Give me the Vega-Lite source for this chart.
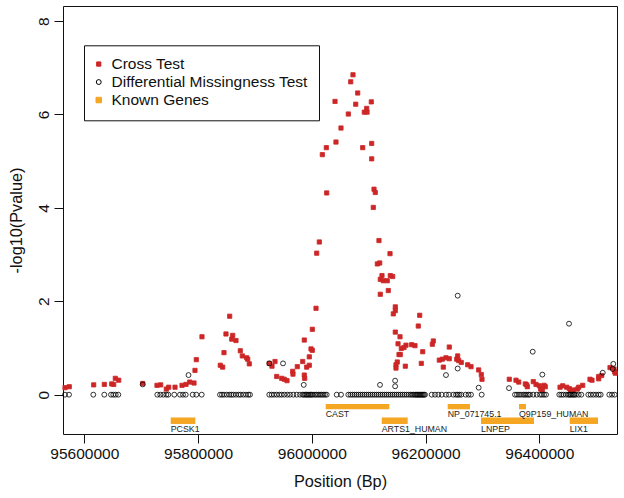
{
"$schema": "https://vega.github.io/schema/vega-lite/v6.json",
"width": 554, "height": 428,
"autosize": {"type": "none"},
"padding": {"left": 63, "top": 6, "right": 7, "bottom": 64},
"background": "white",
"config": {
  "font": "Liberation Sans",
  "view": {"stroke": "#111", "strokeWidth": 1},
  "axis": {"grid": false, "domain": false, "tickColor": "#111", "labelColor": "#111", "titleColor": "#111", "titleFontWeight": "normal", "labelFontSize": 15.5, "titleFontSize": 16.3, "tickSize": 9, "tickWidth": 1}
},
"datasets": {
"pts": [
{"pos":95566100,"p":0.15,"test":"Cross Test"},{"pos":95573600,"p":0.17,"test":"Cross Test"},{"pos":95616500,"p":0.21,"test":"Cross Test"},{"pos":95635200,"p":0.22,"test":"Cross Test"},{"pos":95648200,"p":0.23,"test":"Cross Test"},{"pos":95651700,"p":0.22,"test":"Cross Test"},{"pos":95654500,"p":0.35,"test":"Cross Test"},{"pos":95660500,"p":0.31,"test":"Cross Test"},{"pos":95702700,"p":0.24,"test":"Cross Test"},{"pos":95727800,"p":0.20,"test":"Cross Test"},{"pos":95734300,"p":0.21,"test":"Cross Test"},{"pos":95744200,"p":0.12,"test":"Cross Test"},{"pos":95748400,"p":0.16,"test":"Cross Test"},{"pos":95759500,"p":0.16,"test":"Cross Test"},{"pos":95771800,"p":0.20,"test":"Cross Test"},{"pos":95778800,"p":0.22,"test":"Cross Test"},{"pos":95785300,"p":0.27,"test":"Cross Test"},{"pos":95792900,"p":0.25,"test":"Cross Test"},{"pos":95794600,"p":0.52,"test":"Cross Test"},{"pos":95796900,"p":0.75,"test":"Cross Test"},{"pos":95806900,"p":1.24,"test":"Cross Test"},{"pos":95839100,"p":0.63,"test":"Cross Test"},{"pos":95843300,"p":0.59,"test":"Cross Test"},{"pos":95845600,"p":0.90,"test":"Cross Test"},{"pos":95849100,"p":1.30,"test":"Cross Test"},{"pos":95855600,"p":1.68,"test":"Cross Test"},{"pos":95860900,"p":1.27,"test":"Cross Test"},{"pos":95859200,"p":1.19,"test":"Cross Test"},{"pos":95866700,"p":1.16,"test":"Cross Test"},{"pos":95874300,"p":0.94,"test":"Cross Test"},{"pos":95877800,"p":0.83,"test":"Cross Test"},{"pos":95885500,"p":0.79,"test":"Cross Test"},{"pos":95887300,"p":0.76,"test":"Cross Test"},{"pos":95890100,"p":0.66,"test":"Cross Test"},{"pos":95925300,"p":0.67,"test":"Cross Test"},{"pos":95930000,"p":0.61,"test":"Cross Test"},{"pos":95935300,"p":0.71,"test":"Cross Test"},{"pos":95938300,"p":0.39,"test":"Cross Test"},{"pos":95947100,"p":0.35,"test":"Cross Test"},{"pos":95951600,"p":0.33,"test":"Cross Test"},{"pos":95956400,"p":0.30,"test":"Cross Test"},{"pos":95966400,"p":0.50,"test":"Cross Test"},{"pos":95966900,"p":0.44,"test":"Cross Test"},{"pos":95974500,"p":0.60,"test":"Cross Test"},{"pos":95984000,"p":0.71,"test":"Cross Test"},{"pos":95986800,"p":1.17,"test":"Cross Test"},{"pos":95986800,"p":0.42,"test":"Cross Test"},{"pos":95987500,"p":0.35,"test":"Cross Test"},{"pos":95991000,"p":0.59,"test":"Cross Test"},{"pos":95995600,"p":0.63,"test":"Cross Test"},{"pos":95995600,"p":0.81,"test":"Cross Test"},{"pos":95998600,"p":0.98,"test":"Cross Test"},{"pos":96000900,"p":0.95,"test":"Cross Test"},{"pos":96000900,"p":1.40,"test":"Cross Test"},{"pos":96007400,"p":1.85,"test":"Cross Test"},{"pos":96008600,"p":3.03,"test":"Cross Test"},{"pos":96013200,"p":3.27,"test":"Cross Test"},{"pos":96018500,"p":5.14,"test":"Cross Test"},{"pos":96025500,"p":5.29,"test":"Cross Test"},{"pos":96026200,"p":4.32,"test":"Cross Test"},{"pos":96040800,"p":6.28,"test":"Cross Test"},{"pos":96042500,"p":5.41,"test":"Cross Test"},{"pos":96051300,"p":5.71,"test":"Cross Test"},{"pos":96064200,"p":6.01,"test":"Cross Test"},{"pos":96068400,"p":6.70,"test":"Cross Test"},{"pos":96072400,"p":6.85,"test":"Cross Test"},{"pos":96077200,"p":6.22,"test":"Cross Test"},{"pos":96080700,"p":6.46,"test":"Cross Test"},{"pos":96089500,"p":5.29,"test":"Cross Test"},{"pos":96092300,"p":6.05,"test":"Cross Test"},{"pos":96097100,"p":6.05,"test":"Cross Test"},{"pos":96096500,"p":6.13,"test":"Cross Test"},{"pos":96104600,"p":6.27,"test":"Cross Test"},{"pos":96105300,"p":5.38,"test":"Cross Test"},{"pos":96105300,"p":5.05,"test":"Cross Test"},{"pos":96109400,"p":4.40,"test":"Cross Test"},{"pos":96111600,"p":4.33,"test":"Cross Test"},{"pos":96108100,"p":4.01,"test":"Cross Test"},{"pos":96118100,"p":3.30,"test":"Cross Test"},{"pos":96115200,"p":2.80,"test":"Cross Test"},{"pos":96119400,"p":2.82,"test":"Cross Test"},{"pos":96123400,"p":2.55,"test":"Cross Test"},{"pos":96137500,"p":3.02,"test":"Cross Test"},{"pos":96138000,"p":2.55,"test":"Cross Test"},{"pos":96142200,"p":2.53,"test":"Cross Test"},{"pos":96120400,"p":2.47,"test":"Cross Test"},{"pos":96125700,"p":2.44,"test":"Cross Test"},{"pos":96132700,"p":2.44,"test":"Cross Test"},{"pos":96134500,"p":2.23,"test":"Cross Test"},{"pos":96120400,"p":2.15,"test":"Cross Test"},{"pos":96146800,"p":1.88,"test":"Cross Test"},{"pos":96146800,"p":1.80,"test":"Cross Test"},{"pos":96143300,"p":1.73,"test":"Cross Test"},{"pos":96189700,"p":1.70,"test":"Cross Test"},{"pos":96187200,"p":1.47,"test":"Cross Test"},{"pos":96146800,"p":1.34,"test":"Cross Test"},{"pos":96155100,"p":1.24,"test":"Cross Test"},{"pos":96151600,"p":1.09,"test":"Cross Test"},{"pos":96157400,"p":0.99,"test":"Cross Test"},{"pos":96165600,"p":1.06,"test":"Cross Test"},{"pos":96162100,"p":1.01,"test":"Cross Test"},{"pos":96175600,"p":1.07,"test":"Cross Test"},{"pos":96181400,"p":1.05,"test":"Cross Test"},{"pos":96195000,"p":0.92,"test":"Cross Test"},{"pos":96153300,"p":0.86,"test":"Cross Test"},{"pos":96155600,"p":0.86,"test":"Cross Test"},{"pos":96150300,"p":0.70,"test":"Cross Test"},{"pos":96148000,"p":0.64,"test":"Cross Test"},{"pos":96148000,"p":0.57,"test":"Cross Test"},{"pos":96164400,"p":0.61,"test":"Cross Test"},{"pos":96192500,"p":0.67,"test":"Cross Test"},{"pos":96211900,"p":1.08,"test":"Cross Test"},{"pos":96213600,"p":1.15,"test":"Cross Test"},{"pos":96224200,"p":0.74,"test":"Cross Test"},{"pos":96229400,"p":0.76,"test":"Cross Test"},{"pos":96235900,"p":0.79,"test":"Cross Test"},{"pos":96231200,"p":0.59,"test":"Cross Test"},{"pos":96241700,"p":1.02,"test":"Cross Test"},{"pos":96241700,"p":0.77,"test":"Cross Test"},{"pos":96254800,"p":0.76,"test":"Cross Test"},{"pos":96256500,"p":0.83,"test":"Cross Test"},{"pos":96258300,"p":0.73,"test":"Cross Test"},{"pos":96262800,"p":0.69,"test":"Cross Test"},{"pos":96274100,"p":0.64,"test":"Cross Test"},{"pos":96279900,"p":0.60,"test":"Cross Test"},{"pos":96293400,"p":0.53,"test":"Cross Test"},{"pos":96298000,"p":0.43,"test":"Cross Test"},{"pos":96299200,"p":0.33,"test":"Cross Test"},{"pos":96347200,"p":0.33,"test":"Cross Test"},{"pos":96359000,"p":0.31,"test":"Cross Test"},{"pos":96363800,"p":0.27,"test":"Cross Test"},{"pos":96375400,"p":0.23,"test":"Cross Test"},{"pos":96378900,"p":0.17,"test":"Cross Test"},{"pos":96377800,"p":0.21,"test":"Cross Test"},{"pos":96389400,"p":0.28,"test":"Cross Test"},{"pos":96394200,"p":0.22,"test":"Cross Test"},{"pos":96400000,"p":0.19,"test":"Cross Test"},{"pos":96402400,"p":0.12,"test":"Cross Test"},{"pos":96408300,"p":0.20,"test":"Cross Test"},{"pos":96410500,"p":0.17,"test":"Cross Test"},{"pos":96405300,"p":0.10,"test":"Cross Test"},{"pos":96436400,"p":0.16,"test":"Cross Test"},{"pos":96441100,"p":0.19,"test":"Cross Test"},{"pos":96448200,"p":0.16,"test":"Cross Test"},{"pos":96452700,"p":0.13,"test":"Cross Test"},{"pos":96455200,"p":0.09,"test":"Cross Test"},{"pos":96459800,"p":0.10,"test":"Cross Test"},{"pos":96466800,"p":0.12,"test":"Cross Test"},{"pos":96469300,"p":0.16,"test":"Cross Test"},{"pos":96476300,"p":0.20,"test":"Cross Test"},{"pos":96489100,"p":0.33,"test":"Cross Test"},{"pos":96492600,"p":0.31,"test":"Cross Test"},{"pos":96504400,"p":0.34,"test":"Cross Test"},{"pos":96504400,"p":0.39,"test":"Cross Test"},{"pos":96509700,"p":0.41,"test":"Cross Test"},{"pos":96524300,"p":0.58,"test":"Cross Test"},{"pos":96531300,"p":0.55,"test":"Cross Test"},{"pos":96532600,"p":0.49,"test":"Cross Test"},{"pos":96533600,"p":0.46,"test":"Cross Test"},
{"pos":95702700,"p":0.22,"test":"Differential Missingness Test"},{"pos":95783200,"p":0.42,"test":"Differential Missingness Test"},{"pos":95925300,"p":0.67,"test":"Differential Missingness Test"},{"pos":95949400,"p":0.67,"test":"Differential Missingness Test"},{"pos":95985800,"p":0.21,"test":"Differential Missingness Test"},{"pos":96119900,"p":0.21,"test":"Differential Missingness Test"},{"pos":96146500,"p":0.30,"test":"Differential Missingness Test"},{"pos":96146500,"p":0.18,"test":"Differential Missingness Test"},{"pos":96235900,"p":0.42,"test":"Differential Missingness Test"},{"pos":96256500,"p":2.12,"test":"Differential Missingness Test"},{"pos":96256500,"p":0.56,"test":"Differential Missingness Test"},{"pos":96293400,"p":0.15,"test":"Differential Missingness Test"},{"pos":96346700,"p":0.14,"test":"Differential Missingness Test"},{"pos":96388400,"p":0.92,"test":"Differential Missingness Test"},{"pos":96405300,"p":0.43,"test":"Differential Missingness Test"},{"pos":96452200,"p":1.52,"test":"Differential Missingness Test"},{"pos":96511500,"p":0.47,"test":"Differential Missingness Test"},{"pos":96530100,"p":0.66,"test":"Differential Missingness Test"},{"pos":96529000,"p":0.55,"test":"Differential Missingness Test"},
{"pos":95566070,"p":0,"test":"Differential Missingness Test"},{"pos":95573100,"p":0,"test":"Differential Missingness Test"},{"pos":95615820,"p":0,"test":"Differential Missingness Test"},{"pos":95635160,"p":0,"test":"Differential Missingness Test"},{"pos":95646940,"p":0,"test":"Differential Missingness Test"},{"pos":95650990,"p":0,"test":"Differential Missingness Test"},{"pos":95655210,"p":0,"test":"Differential Missingness Test"},{"pos":95659780,"p":0,"test":"Differential Missingness Test"},{"pos":95728350,"p":0,"test":"Differential Missingness Test"},{"pos":95733620,"p":0,"test":"Differential Missingness Test"},{"pos":95738900,"p":0,"test":"Differential Missingness Test"},{"pos":95744170,"p":0,"test":"Differential Missingness Test"},{"pos":95747690,"p":0,"test":"Differential Missingness Test"},{"pos":95758240,"p":0,"test":"Differential Missingness Test"},{"pos":95768260,"p":0,"test":"Differential Missingness Test"},{"pos":95773530,"p":0,"test":"Differential Missingness Test"},{"pos":95778280,"p":0,"test":"Differential Missingness Test"},{"pos":95790590,"p":0,"test":"Differential Missingness Test"},{"pos":95796920,"p":0,"test":"Differential Missingness Test"},{"pos":95806410,"p":0,"test":"Differential Missingness Test"},{"pos":95838590,"p":0,"test":"Differential Missingness Test"},{"pos":95842100,"p":0,"test":"Differential Missingness Test"},{"pos":95845620,"p":0,"test":"Differential Missingness Test"},{"pos":95850370,"p":0,"test":"Differential Missingness Test"},{"pos":95854940,"p":0,"test":"Differential Missingness Test"},{"pos":95858460,"p":0,"test":"Differential Missingness Test"},{"pos":95861970,"p":0,"test":"Differential Missingness Test"},{"pos":95866720,"p":0,"test":"Differential Missingness Test"},{"pos":95871470,"p":0,"test":"Differential Missingness Test"},{"pos":95874980,"p":0,"test":"Differential Missingness Test"},{"pos":95879550,"p":0,"test":"Differential Missingness Test"},{"pos":95884300,"p":0,"test":"Differential Missingness Test"},{"pos":95888340,"p":0,"test":"Differential Missingness Test"},{"pos":95891330,"p":0,"test":"Differential Missingness Test"},{"pos":95925270,"p":0,"test":"Differential Missingness Test"},{"pos":95929490,"p":0,"test":"Differential Missingness Test"},{"pos":95933530,"p":0,"test":"Differential Missingness Test"},{"pos":95938280,"p":0,"test":"Differential Missingness Test"},{"pos":95942850,"p":0,"test":"Differential Missingness Test"},{"pos":95947070,"p":0,"test":"Differential Missingness Test"},{"pos":95951640,"p":0,"test":"Differential Missingness Test"},{"pos":95956910,"p":0,"test":"Differential Missingness Test"},{"pos":95961660,"p":0,"test":"Differential Missingness Test"},{"pos":95967460,"p":0,"test":"Differential Missingness Test"},{"pos":95973440,"p":0,"test":"Differential Missingness Test"},{"pos":95979240,"p":0,"test":"Differential Missingness Test"},{"pos":95983990,"p":0,"test":"Differential Missingness Test"},{"pos":95986280,"p":0,"test":"Differential Missingness Test"},{"pos":95988910,"p":0,"test":"Differential Missingness Test"},{"pos":95991020,"p":0,"test":"Differential Missingness Test"},{"pos":95993310,"p":0,"test":"Differential Missingness Test"},{"pos":95995070,"p":0,"test":"Differential Missingness Test"},{"pos":95997710,"p":0,"test":"Differential Missingness Test"},{"pos":95999820,"p":0,"test":"Differential Missingness Test"},{"pos":96002100,"p":0,"test":"Differential Missingness Test"},{"pos":96005620,"p":0,"test":"Differential Missingness Test"},{"pos":96008250,"p":0,"test":"Differential Missingness Test"},{"pos":96011420,"p":0,"test":"Differential Missingness Test"},{"pos":96014410,"p":0,"test":"Differential Missingness Test"},{"pos":96017050,"p":0,"test":"Differential Missingness Test"},{"pos":96020210,"p":0,"test":"Differential Missingness Test"},{"pos":96023200,"p":0,"test":"Differential Missingness Test"},{"pos":96026190,"p":0,"test":"Differential Missingness Test"},
{"pos":96043770,"p":0,"test":"Differential Missingness Test"},{"pos":96051330,"p":0,"test":"Differential Missingness Test"},{"pos":96064160,"p":0,"test":"Differential Missingness Test"},{"pos":96068030,"p":0,"test":"Differential Missingness Test"},{"pos":96071550,"p":0,"test":"Differential Missingness Test"},{"pos":96075070,"p":0,"test":"Differential Missingness Test"},{"pos":96078580,"p":0,"test":"Differential Missingness Test"},{"pos":96082100,"p":0,"test":"Differential Missingness Test"},{"pos":96085610,"p":0,"test":"Differential Missingness Test"},{"pos":96089130,"p":0,"test":"Differential Missingness Test"},{"pos":96092650,"p":0,"test":"Differential Missingness Test"},{"pos":96096160,"p":0,"test":"Differential Missingness Test"},{"pos":96099680,"p":0,"test":"Differential Missingness Test"},{"pos":96103200,"p":0,"test":"Differential Missingness Test"},{"pos":96106710,"p":0,"test":"Differential Missingness Test"},{"pos":96110230,"p":0,"test":"Differential Missingness Test"},{"pos":96113750,"p":0,"test":"Differential Missingness Test"},{"pos":96117260,"p":0,"test":"Differential Missingness Test"},{"pos":96120780,"p":0,"test":"Differential Missingness Test"},{"pos":96124300,"p":0,"test":"Differential Missingness Test"},{"pos":96127810,"p":0,"test":"Differential Missingness Test"},{"pos":96131330,"p":0,"test":"Differential Missingness Test"},{"pos":96134840,"p":0,"test":"Differential Missingness Test"},{"pos":96138360,"p":0,"test":"Differential Missingness Test"},{"pos":96141880,"p":0,"test":"Differential Missingness Test"},{"pos":96145390,"p":0,"test":"Differential Missingness Test"},{"pos":96148910,"p":0,"test":"Differential Missingness Test"},{"pos":96152430,"p":0,"test":"Differential Missingness Test"},{"pos":96155940,"p":0,"test":"Differential Missingness Test"},{"pos":96159460,"p":0,"test":"Differential Missingness Test"},{"pos":96162980,"p":0,"test":"Differential Missingness Test"},{"pos":96166490,"p":0,"test":"Differential Missingness Test"},{"pos":96170010,"p":0,"test":"Differential Missingness Test"},{"pos":96173520,"p":0,"test":"Differential Missingness Test"},{"pos":96176160,"p":0,"test":"Differential Missingness Test"},{"pos":96178800,"p":0,"test":"Differential Missingness Test"},{"pos":96181440,"p":0,"test":"Differential Missingness Test"},{"pos":96183190,"p":0,"test":"Differential Missingness Test"},{"pos":96184950,"p":0,"test":"Differential Missingness Test"},{"pos":96186710,"p":0,"test":"Differential Missingness Test"},{"pos":96188470,"p":0,"test":"Differential Missingness Test"},{"pos":96190230,"p":0,"test":"Differential Missingness Test"},{"pos":96191990,"p":0,"test":"Differential Missingness Test"},{"pos":96193740,"p":0,"test":"Differential Missingness Test"},{"pos":96195500,"p":0,"test":"Differential Missingness Test"},{"pos":96197260,"p":0,"test":"Differential Missingness Test"},{"pos":96199020,"p":0,"test":"Differential Missingness Test"},
{"pos":96210800,"p":0,"test":"Differential Missingness Test"},{"pos":96216600,"p":0,"test":"Differential Missingness Test"},{"pos":96222400,"p":0,"test":"Differential Missingness Test"},{"pos":96228380,"p":0,"test":"Differential Missingness Test"},{"pos":96235940,"p":0,"test":"Differential Missingness Test"},{"pos":96241220,"p":0,"test":"Differential Missingness Test"},{"pos":96248780,"p":0,"test":"Differential Missingness Test"},{"pos":96253520,"p":0,"test":"Differential Missingness Test"},{"pos":96256510,"p":0,"test":"Differential Missingness Test"},{"pos":96259330,"p":0,"test":"Differential Missingness Test"},{"pos":96262840,"p":0,"test":"Differential Missingness Test"},{"pos":96270580,"p":0,"test":"Differential Missingness Test"},{"pos":96275500,"p":0,"test":"Differential Missingness Test"},{"pos":96279900,"p":0,"test":"Differential Missingness Test"},{"pos":96298710,"p":0,"test":"Differential Missingness Test"},
{"pos":96357260,"p":0,"test":"Differential Missingness Test"},{"pos":96360770,"p":0,"test":"Differential Missingness Test"},{"pos":96364290,"p":0,"test":"Differential Missingness Test"},{"pos":96367810,"p":0,"test":"Differential Missingness Test"},{"pos":96371850,"p":0,"test":"Differential Missingness Test"},{"pos":96374840,"p":0,"test":"Differential Missingness Test"},{"pos":96377830,"p":0,"test":"Differential Missingness Test"},{"pos":96380990,"p":0,"test":"Differential Missingness Test"},{"pos":96383630,"p":0,"test":"Differential Missingness Test"},{"pos":96389430,"p":0,"test":"Differential Missingness Test"},{"pos":96395410,"p":0,"test":"Differential Missingness Test"},{"pos":96401210,"p":0,"test":"Differential Missingness Test"},{"pos":96404730,"p":0,"test":"Differential Missingness Test"},{"pos":96408250,"p":0,"test":"Differential Missingness Test"},{"pos":96411760,"p":0,"test":"Differential Missingness Test"},
{"pos":96435150,"p":0,"test":"Differential Missingness Test"},{"pos":96438660,"p":0,"test":"Differential Missingness Test"},{"pos":96442180,"p":0,"test":"Differential Missingness Test"},{"pos":96446930,"p":0,"test":"Differential Missingness Test"},{"pos":96450970,"p":0,"test":"Differential Missingness Test"},{"pos":96453080,"p":0,"test":"Differential Missingness Test"},{"pos":96455190,"p":0,"test":"Differential Missingness Test"},{"pos":96457470,"p":0,"test":"Differential Missingness Test"},{"pos":96459760,"p":0,"test":"Differential Missingness Test"},{"pos":96461870,"p":0,"test":"Differential Missingness Test"},{"pos":96464510,"p":0,"test":"Differential Missingness Test"},{"pos":96469250,"p":0,"test":"Differential Missingness Test"},{"pos":96473830,"p":0,"test":"Differential Missingness Test"},
{"pos":96486130,"p":0,"test":"Differential Missingness Test"},{"pos":96490350,"p":0,"test":"Differential Missingness Test"},{"pos":96494920,"p":0,"test":"Differential Missingness Test"},{"pos":96499670,"p":0,"test":"Differential Missingness Test"},{"pos":96504420,"p":0,"test":"Differential Missingness Test"},{"pos":96507930,"p":0,"test":"Differential Missingness Test"},
{"pos":96523060,"p":0,"test":"Differential Missingness Test"},{"pos":96527800,"p":0,"test":"Differential Missingness Test"},{"pos":96532550,"p":0,"test":"Differential Missingness Test"}
],
"genes": [
{"gene":"PCSK1","start":95751900,"end":95795200,"top":-0.488,"bottom":-0.627},
{"gene":"CAST","start":96024400,"end":96136300,"top":-0.199,"bottom":-0.313},
{"gene":"ARTS1_HUMAN","start":96122900,"end":96168600,"top":-0.488,"bottom":-0.627},
{"gene":"NP_071745.1","start":96238900,"end":96278100,"top":-0.199,"bottom":-0.313},
{"gene":"LNPEP","start":96297500,"end":96390700,"top":-0.488,"bottom":-0.627},
{"gene":"Q9P159_HUMAN","start":96364300,"end":96376600,"top":-0.199,"bottom":-0.313},
{"gene":"LIX1","start":96453400,"end":96503200,"top":-0.488,"bottom":-0.627}
]
},
"layer": [
{
  "data": {"name": "pts"},
  "mark": {"type": "point", "opacity": 1, "strokeWidth": 0.8},
  "encoding": {
    "x": {"field": "pos", "type": "quantitative", "title": "Position (Bp)",
      "scale": {"domain": [95562550, 96536590], "nice": false, "zero": false},
      "axis": {"values": [95600000, 95800000, 96000000, 96200000, 96400000], "format": "d", "labelPadding": 3, "titlePadding": 12}},
    "y": {"field": "p", "type": "quantitative", "title": "-log10(Pvalue)",
      "scale": {"domain": [-0.842, 8.323], "nice": false, "zero": false},
      "axis": {"values": [0, 2, 4, 6, 8], "labelAngle": 270, "labelAlign": "center", "labelBaseline": "alphabetic", "labelPadding": 6, "titlePadding": 12}},
    "fill": {"field": "test", "type": "nominal",
      "scale": {"domain": ["Cross Test", "Differential Missingness Test", "Known Genes"], "range": ["#CD2626", "transparent", "#F5A623"]},
      "legend": {"orient": "none", "legendX": 21, "legendY": 39.3, "title": null, "strokeColor": "#111", "fillColor": "white", "padding": 11, "labelFontSize": 15.5, "labelLimit": 400, "rowPadding": 1, "labelOffset": 5, "symbolOffset": -4, "symbolStrokeWidth": 1, "labelColor": "#111"}},
    "stroke": {"field": "test", "type": "nominal",
      "scale": {"domain": ["Cross Test", "Differential Missingness Test", "Known Genes"], "range": ["#CD2626", "#000000", "#F5A623"]}},
    "shape": {"field": "test", "type": "nominal",
      "scale": {"domain": ["Cross Test", "Differential Missingness Test", "Known Genes"], "range": ["square", "circle", "square"]}},
    "size": {"field": "test", "type": "nominal",
      "scale": {"domain": ["Cross Test", "Differential Missingness Test", "Known Genes"], "range": [18, 30, 34]}}
  }
},
{
  "data": {"name": "genes"},
  "mark": {"type": "rect", "color": "#F5A623"},
  "encoding": {
    "x": {"field": "start", "type": "quantitative", "title": "Position (Bp)"},
    "x2": {"field": "end"},
    "y": {"field": "top", "type": "quantitative", "title": "-log10(Pvalue)"},
    "y2": {"field": "bottom"}
  }
},
{
  "data": {"name": "genes"},
  "mark": {"type": "text", "align": "left", "baseline": "top", "fontSize": 8.8, "dy": 1, "color": "#222"},
  "encoding": {
    "x": {"field": "start", "type": "quantitative", "title": "Position (Bp)"},
    "y": {"field": "bottom", "type": "quantitative", "title": "-log10(Pvalue)"},
    "text": {"field": "gene"}
  }
}
]
}
